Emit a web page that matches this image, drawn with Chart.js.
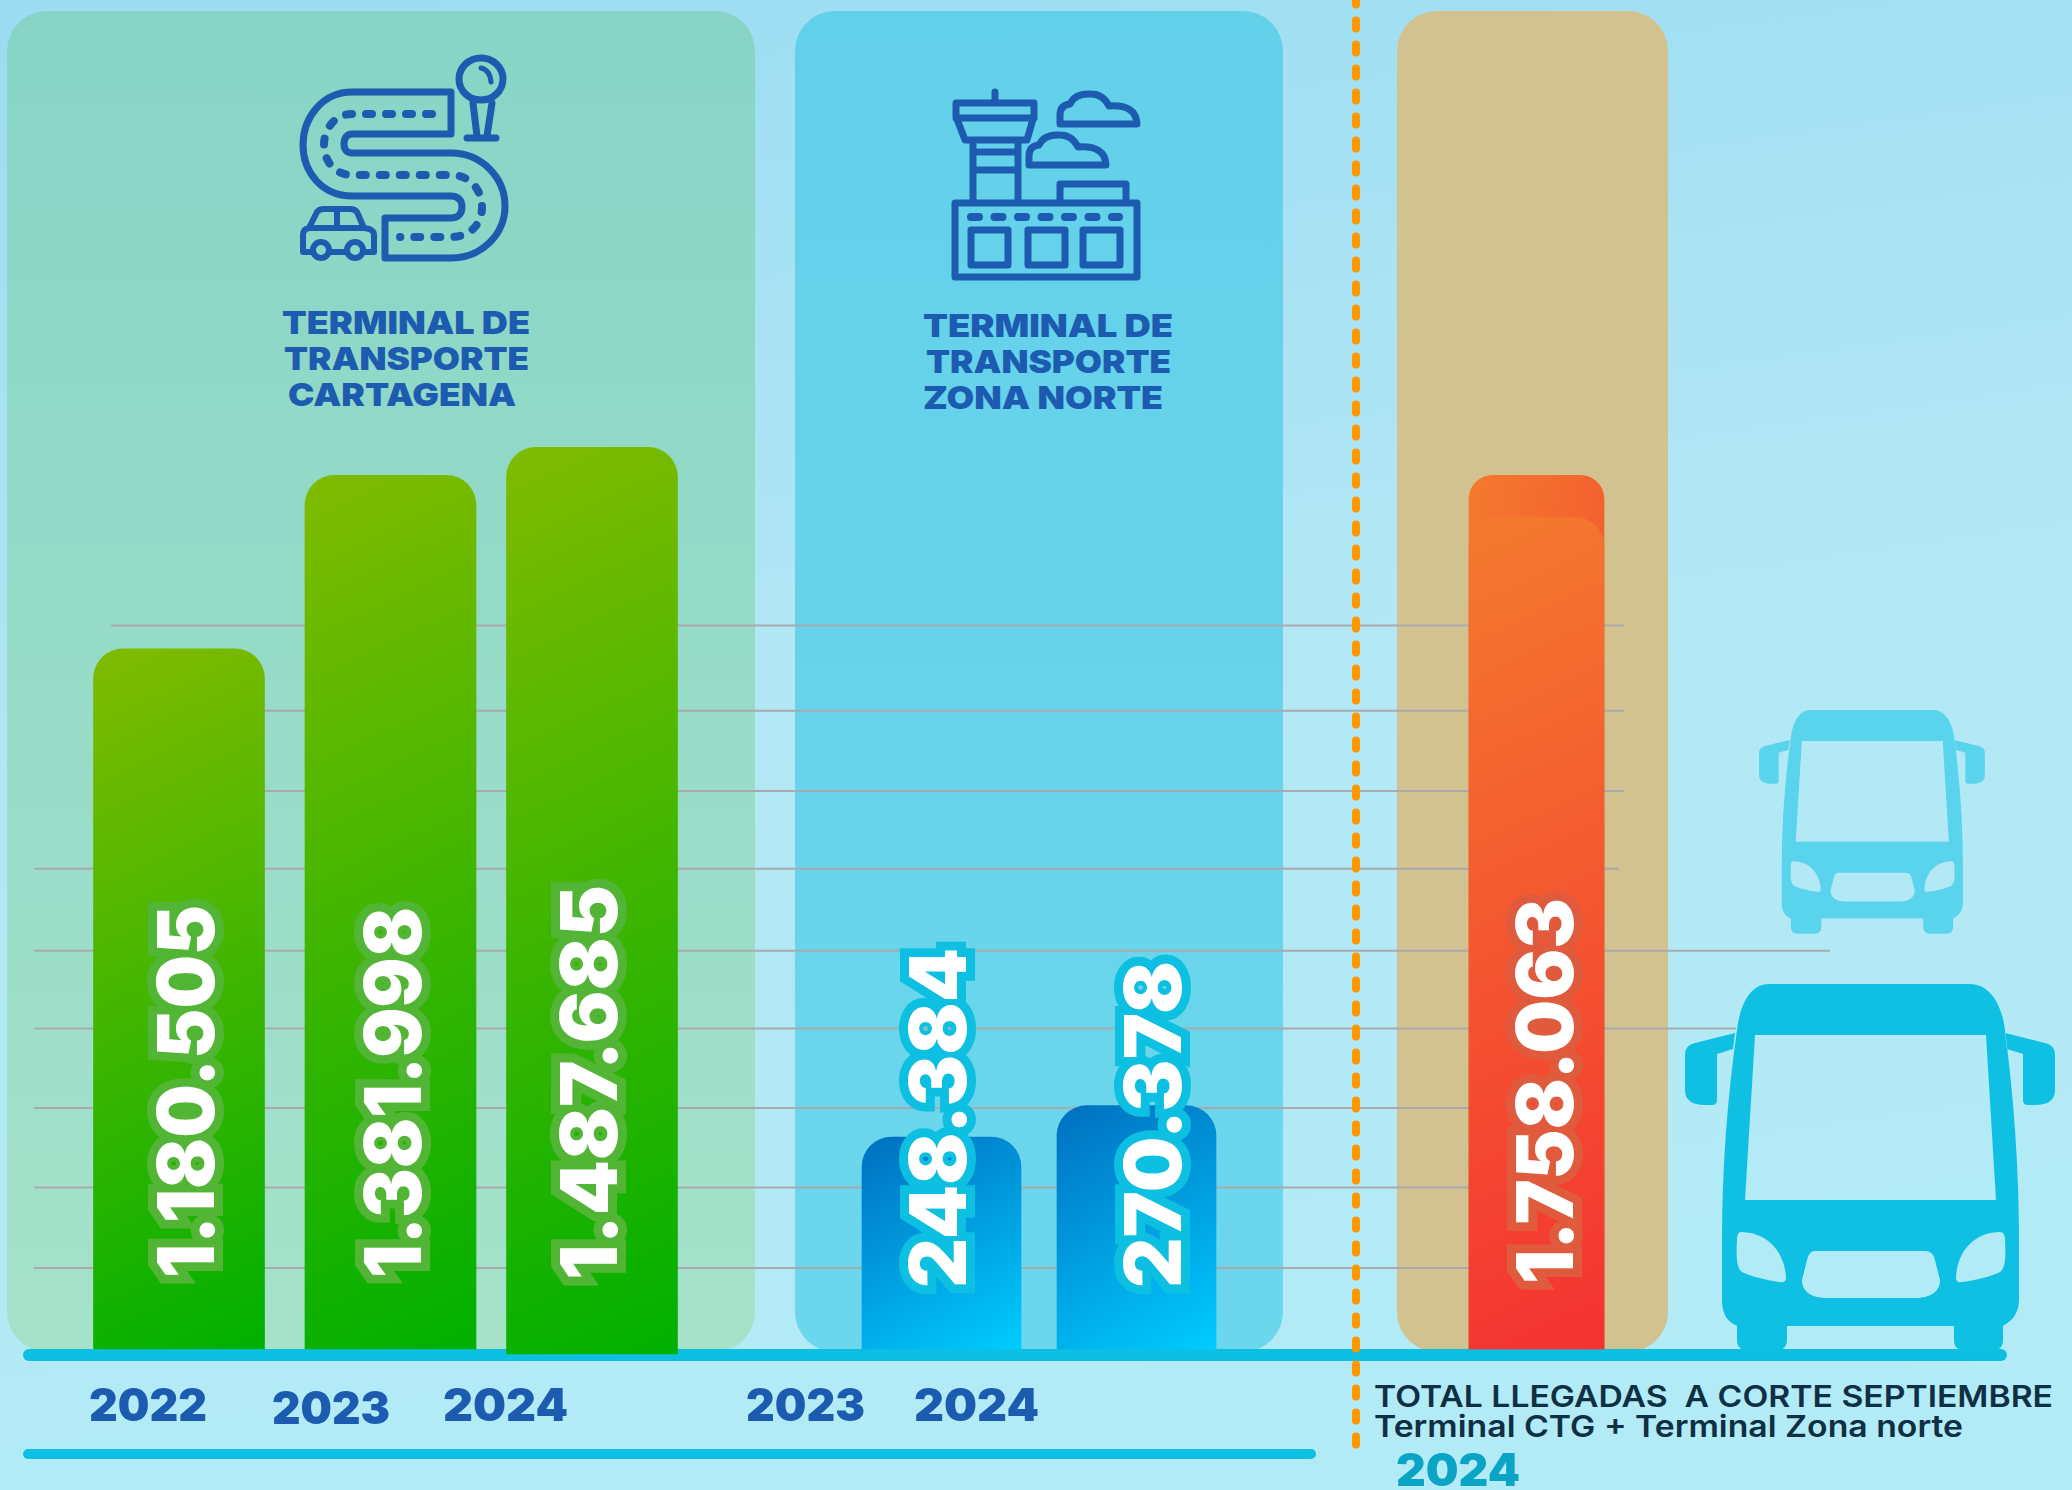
<!DOCTYPE html>
<html lang="es">
<head>
<meta charset="utf-8">
<title>Llegadas terminales</title>
<script src="https://cdn.jsdelivr.net/npm/chart.js@4/dist/chart.umd.js"></script>
<style>
  html, body { margin: 0; padding: 0; overflow: hidden; }
  #page { position: relative; width: 2072px; height: 1490px; background: linear-gradient(172deg, #9BDCF2 0%, #B3E7F5 45%, #B2ECF6 100%); }
  #page svg, #page canvas { position: absolute; left: 0; top: 0; }
  .title { font: 900 32px Inter, sans-serif; fill: #1C5BB0; }
  .note { font: 600 30px Inter, sans-serif; fill: #0F2F44; }
  .ink { fill: none; stroke: #1C5BB0; stroke-width: 7; stroke-linejoin: round; stroke-linecap: round; }
</style>
</head>
<body>
<div id="page">
<svg width="2072" height="1490" viewBox="0 0 2072 1490">
  <defs>
    <linearGradient id="panelGreen" x1="0" y1="0" x2="0" y2="1"><stop offset="0" stop-color="#87D4C6"/><stop offset="1" stop-color="#A6E2CA"/></linearGradient>
    <linearGradient id="panelBlue" x1="0" y1="0" x2="0" y2="1"><stop offset="0" stop-color="#63D0EA"/><stop offset="1" stop-color="#6CD7EC"/></linearGradient>
    <path id="bus" fill-rule="evenodd" d="M1769 984 H1970 C1990 984 2002 1005 2005 1030 C2014 1100 2019 1170 2019 1240 V1300 C2019 1315 2010 1322 2003 1326 V1340 Q2003 1351 1990 1351 H1967 Q1954 1351 1954 1340 V1326 H1787 V1340 Q1787 1351 1774 1351 H1750 Q1737 1351 1737 1340 V1326 C1728 1322 1722 1315 1722 1300 V1240 C1722 1170 1727 1100 1737 1030 C1740 1005 1750 984 1769 984 Z
      M1755 1035 H1986 L1996 1200 H1745 Z
      M1741 1232 C1765 1232 1785 1250 1786 1278 Q1786 1283 1780 1282 C1765 1280 1750 1276 1742 1272 C1737 1268 1736 1260 1737 1240 Q1737 1232 1741 1232 Z
      M2000 1232 C1976 1232 1957 1250 1956 1278 Q1956 1283 1962 1282 C1977 1280 1992 1276 2000 1272 C2005 1268 2006 1260 2005 1240 Q2005 1232 2000 1232 Z
      M1815 1251 H1925 Q1933 1251 1935 1260 L1940 1280 C1940 1292 1930 1298 1915 1298 H1827 C1812 1298 1802 1292 1802 1280 L1807 1260 Q1809 1251 1815 1251 Z
      M1735 1033 L1695 1043 Q1685 1045 1685 1055 V1090 Q1685 1105 1705 1105 H1712 Q1717 1105 1717 1100 V1054 L1733 1049 Z
      M2005 1033 L2045 1043 Q2055 1045 2055 1055 V1090 Q2055 1105 2035 1105 H2028 Q2023 1105 2023 1100 V1054 L2007 1049 Z"/>
  </defs>

  <rect x="7" y="11" width="748" height="1341" rx="40" fill="url(#panelGreen)"/>
  <rect x="795" y="11" width="488" height="1341" rx="40" fill="url(#panelBlue)"/>
  <rect x="1397" y="11" width="271" height="1341" rx="40" fill="#D2C290"/>

  <!-- road icon -->
  <path class="ink" d="M451 92 H352 C322 92 303 118 303 145 C303 172 322 196 352 196 H451 C458 196 462 200 462 207 C462 214 458 218 451 218 H385 V258 H451 C482 258 505 234 505 206 C505 178 482 153 451 153 H352 C347 153 344 150 344 144 C344 138 347 134 352 134 H451 Z"/>
  <path class="ink" style="stroke-width:8;stroke-dasharray:6 14" d="M432 114 H352 C334 114 324 130 324 145 C324 160 334 175 352 175 H451 C470 175 482 190 482 207 C482 224 470 237 451 237 H400"/>
  <path class="ink" style="stroke-width:6" d="M303 252 V235 Q303 229 309 228 L317 212 Q319 209 324 209 H350 Q355 209 357 212 L364 228 Q374 229 374 235 V252 H365 M312 252 H303 M330 252 H346 M310 228 H364 M337 209 V228"/>
  <circle class="ink" style="stroke-width:6" cx="321" cy="250" r="8"/>
  <circle class="ink" style="stroke-width:6" cx="355" cy="250" r="8"/>
  <ellipse class="ink" cx="481" cy="79" rx="22" ry="21"/>
  <path class="ink" style="stroke-width:5" d="M481 68 Q490 70 491 82"/>
  <path class="ink" d="M473 103 L477 136 M492 103 L487 136 M467 138 H496"/>

  <!-- airport icon -->
  <path class="ink" d="M995 92 V102 M956 103 H1034 V118 H956 Z M957 119 L965 140 H1027 L1033 119 M973 140 V203 M1018 140 V203 M973 152 H1018 M973 170 H1018 M1060 203 V184 H1126 V203 M955 203 H1137 V277 H955 Z"/>
  <path class="ink" d="M1060 124 V115 Q1060 105 1070 104 Q1075 93 1091 94 Q1103 94 1109 106 Q1136 104 1137 124 Z"/>
  <path class="ink" d="M1029 165 V156 Q1029 146 1039 145 Q1044 134 1060 135 Q1072 135 1078 147 Q1105 145 1106 165 Z"/>
  <path class="ink" style="stroke-width:8;stroke-dasharray:8 15.5" d="M971 217 H1119"/>
  <path class="ink" d="M971 230 H1008 V265 H971 Z M1028 230 H1065 V265 H1028 Z M1083 230 H1120 V265 H1083 Z"/>

  <!-- terminal names -->
  <text class="title" x="282" y="334" textLength="248" lengthAdjust="spacingAndGlyphs">TERMINAL DE</text>
  <text class="title" x="284" y="370" textLength="245" lengthAdjust="spacingAndGlyphs">TRANSPORTE</text>
  <text class="title" x="288" y="406" textLength="228" lengthAdjust="spacingAndGlyphs">CARTAGENA</text>
  <text class="title" x="923" y="337" textLength="250" lengthAdjust="spacingAndGlyphs">TERMINAL DE</text>
  <text class="title" x="926" y="373" textLength="245" lengthAdjust="spacingAndGlyphs">TRANSPORTE</text>
  <text class="title" x="923" y="409" textLength="240" lengthAdjust="spacingAndGlyphs">ZONA NORTE</text>

  <!-- buses -->
  <use href="#bus" fill="#0FC0E2"/>
  <use href="#bus" fill="#5AD3EC" transform="translate(1872 710) scale(0.61) translate(-1870 -984)"/>

  <text class="note" x="1374" y="1407" textLength="679" lengthAdjust="spacingAndGlyphs" xml:space="preserve">TOTAL LLEGADAS  A CORTE SEPTIEMBRE</text>
  <text class="note" x="1374" y="1437" textLength="589" lengthAdjust="spacingAndGlyphs">Terminal CTG + Terminal Zona norte</text>
</svg>
<canvas id="chart" width="2072" height="1490"></canvas>
</div>

<script>
const categories = ['2022', '2023', '2024', '2023', '2024', '2024']
const printedValues = ['1.180.505', '1.381.998', '1.487.685', '248.384', '270.378', '1.758.063']

// bar heights as drawn in the picture, they are not to scale with the printed numbers
// one grid step is about 100
const cartagenaHeights = [872, 1088, 1123]
const zonaNorteHeights = [264, 303]
const totalHeights = [1088]
const totalInnerHeights = [1036]
const barFloor = [0, 0, -6, 0, 0, 0]
const gridValues = [101, 201, 300, 399, 496, 598, 695, 795, 901]

// layout, canvas pixels
const barCentres = [179, 390.5, 592, 941.5, 1136.5, 1536.5]
const labelX = [186, 393, 589, 938, 1153, 1545]
const labelBottom = [1278, 1278, 1280, 1288, 1288, 1284]
const labelLength = [373, 371, 395, 340, 327, 386]
const labelStroke = ['#53B535', '#53B535', '#53B535', '#0DBFE0', '#0DBFE0', '#E05B3D']
const yearBox = [
  [89, 1421, 118, '#1C5BB0'], [272, 1424, 118, '#1C5BB0'], [443, 1421, 125, '#1C5BB0'],
  [746, 1421, 119, '#1C5BB0'], [914, 1421, 125, '#1C5BB0'], [1396, 1486, 124, '#0AA5C5']
]
// grid line extents, from the bottom line to the top one
const gridExtents = [[34, 1469], [34, 1469], [34, 1469], [34, 1736], [34, 1830], [34, 1619], [264, 1624], [264, 1624], [111, 1624]]

class PlacedCategoryScale extends Chart.CategoryScale {
  static id = 'placedCategory'
  static defaults = Chart.CategoryScale.defaults
  getPixelForValue(value) {
    const index = typeof value === 'number' ? value : this.parse(value)
    return barCentres[index]
  }
}
Chart.register(PlacedCategoryScale)

function toRange(values, offset) {
  return categories.map((c, i) => {
    const v = values[i - offset]
    return v === undefined ? null : [barFloor[i], v]
  })
}

// angle is measured from straight down, corners of the bar get the end colours
function barGradient(from, to, width, angle) {
  return function (context) {
    const chart = context.chart
    const raw = context.raw
    if (!chart.chartArea || !Array.isArray(raw)) return from
    const left = chart.scales.x.getPixelForValue(context.dataIndex) - width / 2
    const top = chart.scales.y.getPixelForValue(raw[1])
    const height = chart.scales.y.getPixelForValue(raw[0]) - top
    const a = angle * Math.PI / 180
    const len = width * Math.sin(a) + height * Math.cos(a)
    const g = chart.ctx.createLinearGradient(left, top, left + Math.sin(a) * len, top + Math.cos(a) * len)
    g.addColorStop(0, from)
    g.addColorStop(1, to)
    return g
  }
}

function fitText(ctx, text, x, y, width, mode) {
  const natural = ctx.measureText(text).width
  ctx.save()
  ctx.translate(x, y)
  ctx.scale(width / natural, 1)
  if (mode === 'stroke') ctx.strokeText(text, 0, 0)
  else ctx.fillText(text, 0, 0)
  ctx.restore()
}

const backdrop = {
  id: 'backdrop',
  beforeDatasetsDraw(chart) {
    const ctx = chart.ctx
    const y = chart.scales.y
    ctx.save()
    ctx.strokeStyle = '#A9A9AE'
    ctx.lineWidth = 2
    gridValues.forEach((v, i) => {
      ctx.beginPath()
      ctx.moveTo(gridExtents[i][0], y.getPixelForValue(v))
      ctx.lineTo(gridExtents[i][1], y.getPixelForValue(v))
      ctx.stroke()
    })
    // baseline and the lower rule
    ctx.strokeStyle = '#0DC0E2'
    ctx.lineCap = 'round'
    ctx.lineWidth = 12
    ctx.beginPath()
    ctx.moveTo(29, y.getPixelForValue(0) + 6)
    ctx.lineTo(2001, y.getPixelForValue(0) + 6)
    ctx.stroke()
    ctx.lineWidth = 10
    ctx.beginPath()
    ctx.moveTo(28, 1454)
    ctx.lineTo(1311, 1454)
    ctx.stroke()
    // orange divider
    ctx.strokeStyle = '#FF9800'
    ctx.lineWidth = 8
    ctx.setLineDash([8, 16])
    ctx.lineDashOffset = -20.5
    ctx.beginPath()
    ctx.moveTo(1356, 0)
    ctx.lineTo(1356, 1444.5)
    ctx.stroke()
    ctx.restore()
  },
  afterDatasetsDraw(chart) {
    const ctx = chart.ctx
    ctx.save()
    // year labels
    ctx.font = '900 45px Inter, sans-serif'
    categories.forEach((year, i) => {
      ctx.fillStyle = yearBox[i][3]
      fitText(ctx, year, yearBox[i][0], yearBox[i][1], yearBox[i][2])
    })
    // printed values, reading upwards
    ctx.font = '900 78px Inter, sans-serif'
    ctx.lineJoin = 'miter'
    ctx.miterLimit = 2.5
    printedValues.forEach((text, i) => {
      ctx.save()
      ctx.translate(labelX[i], labelBottom[i])
      ctx.rotate(-Math.PI / 2)
      ctx.strokeStyle = labelStroke[i]
      ctx.lineWidth = 18
      fitText(ctx, text, 0, 28, labelLength[i], 'stroke')
      ctx.fillStyle = '#FFFFFF'
      fitText(ctx, text, 0, 28, labelLength[i])
      ctx.restore()
    })
    ctx.restore()
  }
}

const config = {
  type: 'bar',
  data: {
    labels: categories,
    datasets: [
      {
        label: 'Total interior',
        data: toRange(totalInnerHeights, 5),
        barThickness: 135,
        borderRadius: { topLeft: 30, topRight: 30 },
        backgroundColor: barGradient('#F47A2E', '#F43232', 135, 25)
      },
      {
        label: 'Total llegadas',
        data: toRange(totalHeights, 5),
        barThickness: 135,
        borderRadius: { topLeft: 24, topRight: 24 },
        backgroundColor: barGradient('#F47A2E', '#F33A2F', 135, 75)
      },
      {
        label: 'Terminal de Transporte Cartagena',
        data: toRange(cartagenaHeights, 0),
        barThickness: 171,
        borderRadius: { topLeft: 30, topRight: 30 },
        backgroundColor: barGradient('#80BB00', '#00B000', 171, 25)
      },
      {
        label: 'Terminal de Transporte Zona Norte',
        data: toRange(zonaNorteHeights, 3),
        barThickness: 159,
        borderRadius: { topLeft: 30, topRight: 30 },
        backgroundColor: barGradient('#006FBF', '#00CCFF', 159, 30)
      }
    ]
  },
  options: {
    responsive: false,
    animation: false,
    devicePixelRatio: 1,
    layout: { padding: { bottom: 141 } },
    datasets: { bar: { grouped: false, clip: false, borderSkipped: false } },
    plugins: { legend: { display: false }, tooltip: { enabled: false }, title: { display: false } },
    scales: {
      x: { type: 'placedCategory', display: false },
      y: { display: false, min: 0, max: 1680, ticks: { stepSize: 100 } }
    }
  },
  plugins: [backdrop]
}

const myChart = new Chart(document.getElementById('chart'), config)
</script>
</body>
</html>
